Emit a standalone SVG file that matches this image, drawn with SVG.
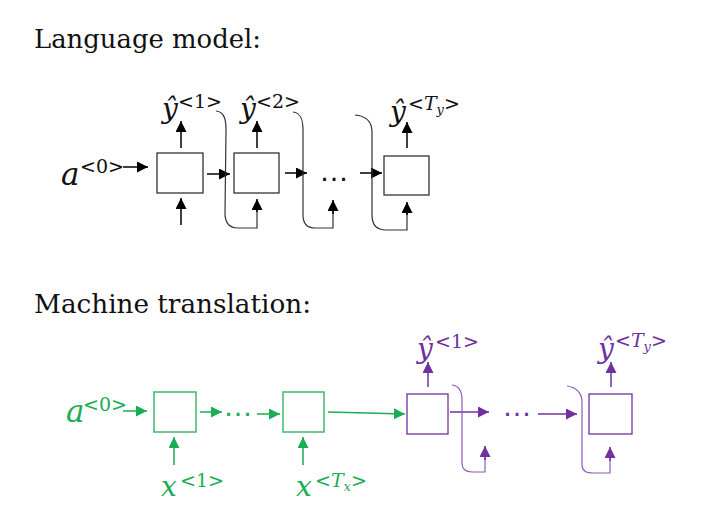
<svg xmlns="http://www.w3.org/2000/svg" width="704" height="514" viewBox="0 0 704 514">
<defs>
<marker id="ab" markerUnits="userSpaceOnUse" markerWidth="12" markerHeight="11" refX="11" refY="5.5" orient="auto"><path d="M0,0 L11,5.5 L0,11 z" fill="#000"/></marker>
<marker id="ag" markerUnits="userSpaceOnUse" markerWidth="12" markerHeight="11" refX="11" refY="5.5" orient="auto"><path d="M0,0 L11,5.5 L0,11 z" fill="#1aae54"/></marker>
<marker id="ap" markerUnits="userSpaceOnUse" markerWidth="12" markerHeight="11" refX="11" refY="5.5" orient="auto"><path d="M0,0 L11,5.5 L0,11 z" fill="#7030a0"/></marker>
</defs>
<style>
.title{font-family:"DejaVu Serif","Liberation Serif",serif;font-size:26px;fill:#111}
.v{font-family:"DejaVu Serif","Liberation Serif",serif;font-style:italic;font-size:28px}
.s{font-family:"DejaVu Serif","Liberation Serif",serif;font-size:19px}
.it{font-style:italic}
.sub{font-style:italic;font-size:13px}
.dots{font-family:"Liberation Sans",sans-serif;font-size:30px}
.bb{fill:#fff;stroke:#333;stroke-width:1.3}
.gb{fill:#fff;stroke:#3cb96c;stroke-width:1.5}
.pb{fill:#fff;stroke:#7030a0;stroke-width:1.3}
.k{stroke:#000;stroke-width:1.5;fill:none}
.kc{stroke:#333;stroke-width:1.2;fill:none}
.g{stroke:#1aae54;stroke-width:1.5;fill:none}
.p{stroke:#7030a0;stroke-width:1.5;fill:none}
.pc{stroke:#8a5cb8;stroke-width:1.2;fill:none}
.black{fill:#111}
.green{fill:#1aae54}
.purple{fill:#7030a0}
</style>
<text class="title" x="34" y="48" textLength="227" lengthAdjust="spacingAndGlyphs">Language model:</text>
<text class="title" x="34" y="313" textLength="277" lengthAdjust="spacingAndGlyphs">Machine translation:</text>

<g id="connectors">
<path class="k" d="M123,167 L148,167" marker-end="url(#ab)"/>
<path class="k" d="M181,148 L181,121" marker-end="url(#ab)"/>
<path class="k" d="M181,225 L181,198" marker-end="url(#ab)"/>
<path class="k" d="M207,174 L230,174" marker-end="url(#ab)"/>
<path class="kc" d="M216,111 C225,112 226,121 226,130 L225,213 C225,223 229,228 238,228 L257,228 L257,205"/>
<path class="k" d="M257,212 L257,199" marker-end="url(#ab)"/>
<path class="k" d="M257,148 L257,121" marker-end="url(#ab)"/>
<path class="k" d="M285,173 L307,173" marker-end="url(#ab)"/>
<path class="kc" d="M293,112 C302,113 303,122 303,130 L303,215 C303,224 307,228 315,228 L333,228 L333,206"/>
<path class="k" d="M333,214 L333,200" marker-end="url(#ab)"/>
<path class="k" d="M360,173 L382,173" marker-end="url(#ab)"/>
<path class="kc" d="M355,115 C366,116 372,122 372,132 L372,215 C372,225 377,230 386,230 L407,230 L407,208"/>
<path class="k" d="M407,215 L407,202" marker-end="url(#ab)"/>
<path class="k" d="M407,148 L407,122" marker-end="url(#ab)"/>

<path class="g" d="M123,411 L147,411" marker-end="url(#ag)"/>
<path class="g" d="M200,412 L222,412" marker-end="url(#ag)"/>
<path class="g" d="M257,414 L280,414" marker-end="url(#ag)"/>
<path class="g" d="M174,465 L174,437" marker-end="url(#ag)"/>
<path class="g" d="M303,465 L303,437" marker-end="url(#ag)"/>
<path class="g" d="M328,412 L405,414" marker-end="url(#ag)"/>

<path class="p" d="M428,387 L428,362" marker-end="url(#ap)"/>
<path class="p" d="M450,412 L489,412" marker-end="url(#ap)"/>
<path class="pc" d="M452,385 C460,386 462,392 462,400 L462,463 C462,470 466,472 472,472 L485,472 L485,452"/>
<path class="p" d="M485,460 L485,446" marker-end="url(#ap)"/>
<path class="p" d="M538,414 L577,414" marker-end="url(#ap)"/>
<path class="pc" d="M567,386 C577,387 582,394 582,402 L582,465 C582,471 587,473 593,473 L610,473 L610,453"/>
<path class="p" d="M610,461 L610,447" marker-end="url(#ap)"/>
<path class="p" d="M611,387 L611,362" marker-end="url(#ap)"/>
</g>

<g id="lm-a0" class="black">
<text class="v" x="61" y="185" style="font-size:31px">a</text>
<text class="s" x="80" y="173">&lt;0&gt;</text>
</g>
<g id="lm-cell1"><rect class="bb" x="157" y="153" width="46" height="40"/></g>
<g id="lm-y1" class="black"><text class="v" x="162" y="118">ŷ</text><text class="s" x="178" y="108">&lt;1&gt;</text></g>
<g id="lm-cell2"><rect class="bb" x="234" y="153" width="45" height="40"/></g>
<g id="lm-y2" class="black"><text class="v" x="240" y="118">ŷ</text><text class="s" x="256" y="108">&lt;2&gt;</text></g>
<g id="lm-dots" class="black"><text class="dots" x="319" y="181">…</text></g>
<g id="lm-cell3"><rect class="bb" x="384" y="156" width="45" height="39"/></g>
<g id="lm-yT" class="black"><text class="v" x="390" y="121">ŷ</text><text class="s" x="408" y="110">&lt;<tspan class="it">T</tspan><tspan class="sub" dy="4">y</tspan><tspan dy="-4">&gt;</tspan></text></g>

<g id="mt-a0" class="green">
<text class="v" x="66" y="422" style="font-size:31px">a</text>
<text class="s" x="83" y="411">&lt;0&gt;</text>
</g>
<g id="mt-enc1"><rect class="gb" x="154" y="392" width="42" height="40"/></g>
<g id="mt-x1" class="green"><text class="v" x="161" y="496">x</text><text class="s" x="180" y="487">&lt;1&gt;</text></g>
<g id="mt-dots1" class="green"><text class="dots" x="223" y="415.5">…</text></g>
<g id="mt-enc2"><rect class="gb" x="283" y="392" width="41" height="40"/></g>
<g id="mt-xT" class="green"><text class="v" x="296" y="496">x</text><text class="s" x="315" y="487">&lt;<tspan class="it">T</tspan><tspan class="sub" dy="4">x</tspan><tspan dy="-4">&gt;</tspan></text></g>
<g id="mt-dec1"><rect class="pb" x="407" y="394" width="41" height="40"/></g>
<g id="mt-y1" class="purple"><text class="v" x="417" y="358">ŷ</text><text class="s" x="435" y="348">&lt;1&gt;</text></g>
<g id="mt-dots2" class="purple"><text class="dots" x="502" y="416">…</text></g>
<g id="mt-dec2"><rect class="pb" x="589" y="394" width="43" height="40"/></g>
<g id="mt-yT" class="purple"><text class="v" x="598" y="358">ŷ</text><text class="s" x="615" y="347">&lt;<tspan class="it">T</tspan><tspan class="sub" dy="4">y</tspan><tspan dy="-4">&gt;</tspan></text></g>
</svg>
